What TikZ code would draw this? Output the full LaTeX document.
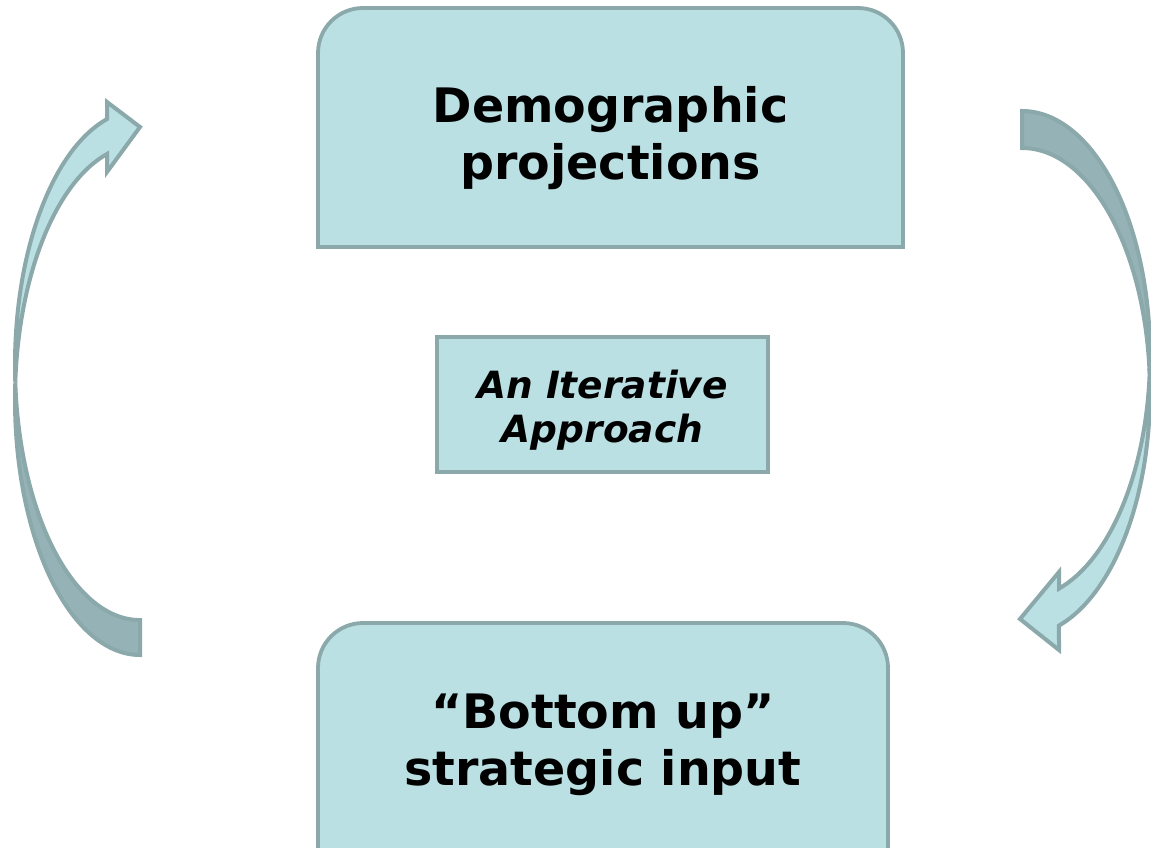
\documentclass[tikz,border=0pt]{standalone}
\usepackage{fontspec}
\setmainfont{DejaVu Sans}
\definecolor{boxfill}{HTML}{BAE0E3}
\definecolor{boxline}{HTML}{8BA8AA}
\definecolor{backfill}{HTML}{95B3B6}
\tikzset{
  boxshape/.style={fill=boxfill, draw=boxline, line width=3.8pt, line join=miter},
  arrowfront/.style={fill=boxfill, draw=boxline, line width=4pt, line join=miter},
  arrowback/.style={fill=backfill, draw=boxline, line width=4pt, line join=miter},
  bigtext/.style={align=center, font=\fontsize{47.5}{57}\selectfont\bfseries, text=black, inner sep=0pt},
  midtext/.style={align=center, font=\fontsize{37.5}{44}\selectfont\bfseries\itshape, text=black, inner sep=0pt}
}
\begin{document}
\begin{tikzpicture}[x=1pt,y=-1pt]
\useasboundingbox (0,0) rectangle (1151,848);
\clip (0,0) rectangle (1151,848);
% top box
\path[boxshape] (318,247) -- (318,53) arc[start angle=180, end angle=270, radius=45]
  -- (858,8) arc[start angle=270, end angle=360, radius=45] -- (903,247) -- cycle;
% bottom box
\path[boxshape] (318,870) -- (318,668) arc[start angle=180, end angle=270, radius=45]
  -- (843,623) arc[start angle=270, end angle=360, radius=45] -- (888,870) -- cycle;
% middle box
\path[boxshape] (437,337) rectangle (768,472);
% texts
\node[bigtext] (demo) at (610.5,138.5) {Demographic\\projections};
\node[bigtext] (bottom) at (603,745) {“Bottom up”\\strategic input};
\node[midtext] (iter) at (602.5,410) {An Iterative\\Approach};
% left arrow: back part
\path[arrowback] (140,655) arc[start angle=90, end angle=183.93, x radius=125, y radius=255]
  arc[start angle=176.07, end angle=90, x radius=125, y radius=255] -- cycle;
% left arrow: front part
\path[arrowfront] (15.3,382.5) arc[start angle=176.07, end angle=254.69, x radius=125, y radius=255]
  -- (107,102) -- (140,127) -- (107,172) -- (107,154)
  arc[start angle=254.69, end angle=183.93, x radius=125, y radius=255] -- cycle;
% right arrow: back part
\path[arrowback] (1022,111) arc[start angle=270, end angle=364.35, x radius=128, y radius=244]
  arc[start angle=355.65, end angle=270, x radius=128, y radius=244] -- cycle;
% right arrow: front part
\path[arrowfront] (1149.6,373.5) arc[start angle=-4.35, end angle=73.2, x radius=128, y radius=244]
  -- (1059,650) -- (1020,619) -- (1059,572) -- (1059,588.6)
  arc[start angle=73.2, end angle=4.35, x radius=128, y radius=244] -- cycle;
\end{tikzpicture}
\end{document}
